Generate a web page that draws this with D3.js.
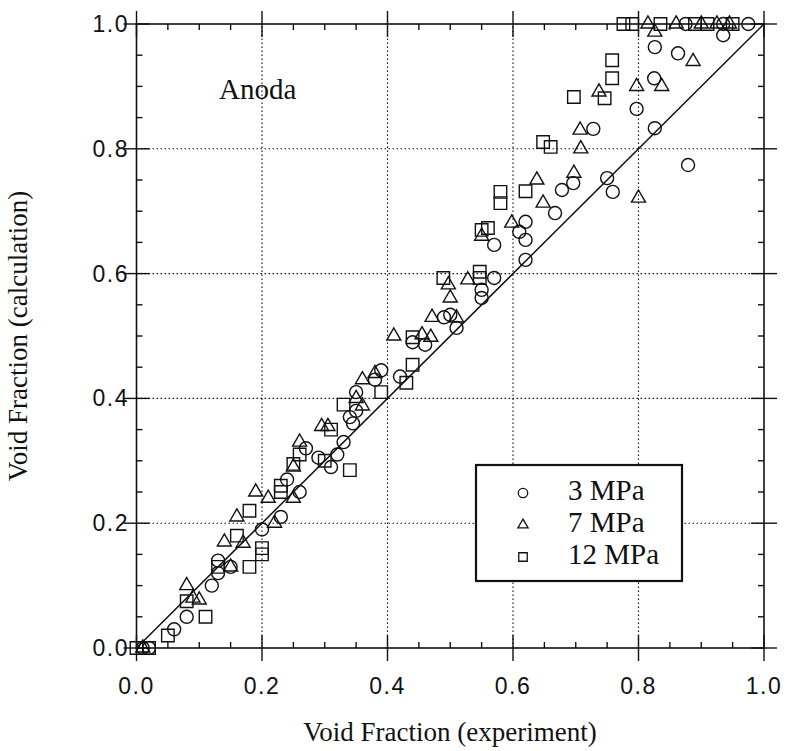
<!DOCTYPE html>
<html><head><meta charset="utf-8">
<script src="https://cdn.jsdelivr.net/npm/d3@7"></script>
<style>
html,body{margin:0;padding:0;background:#fff;}
svg{display:block;}
</style></head>
<body>
<svg id="chart" width="787" height="751"></svg>
<script>
// ---- data (experiment, calculation) ----
const series3MPa = [
  [0.01,0.0],[0.02,0.0],[0.06,0.03],[0.08,0.05],[0.12,0.10],[0.13,0.14],[0.13,0.12],[0.15,0.13],
  [0.20,0.19],[0.23,0.21],[0.24,0.27],[0.26,0.25],[0.27,0.32],[0.29,0.305],[0.31,0.29],[0.32,0.31],
  [0.33,0.33],[0.34,0.37],[0.345,0.36],[0.35,0.41],[0.35,0.38],[0.38,0.43],[0.39,0.445],[0.42,0.435],
  [0.44,0.49],[0.46,0.486],[0.49,0.53],[0.50,0.534],[0.51,0.513],[0.55,0.574],[0.55,0.561],[0.57,0.593],
  [0.57,0.646],[0.61,0.667],[0.62,0.683],[0.62,0.654],[0.62,0.622],[0.667,0.697],[0.678,0.734],[0.696,0.745],
  [0.728,0.832],[0.75,0.753],[0.759,0.731],[0.797,0.864],[0.826,0.833],[0.825,0.913],[0.826,0.963],[0.863,0.953],
  [0.879,0.774],[0.935,0.982],[0.875,1.0],[0.935,1.0],[0.975,1.0]
];
const series7MPa = [
  [0.01,0.0],[0.08,0.10],[0.09,0.08],[0.10,0.077],[0.14,0.17],[0.15,0.13],[0.16,0.21],[0.17,0.168],
  [0.19,0.25],[0.21,0.24],[0.22,0.20],[0.25,0.24],[0.25,0.29],[0.26,0.33],[0.295,0.355],[0.305,0.355],
  [0.35,0.40],[0.36,0.43],[0.36,0.388],[0.38,0.44],[0.41,0.50],[0.455,0.502],[0.469,0.498],[0.471,0.53],
  [0.51,0.529],[0.497,0.582],[0.50,0.561],[0.528,0.59],[0.55,0.66],[0.598,0.681],[0.638,0.75],[0.648,0.713],
  [0.697,0.761],[0.707,0.83],[0.708,0.80],[0.737,0.891],[0.797,0.90],[0.837,0.90],[0.80,0.721],[0.826,0.987],
  [0.887,0.94],[0.815,1.0],[0.86,1.0],[0.90,1.0],[0.925,1.0],[0.945,1.0]
];
const series12MPa = [
  [0.0,0.0],[0.02,0.0],[0.05,0.02],[0.11,0.05],[0.08,0.075],[0.13,0.13],[0.18,0.13],[0.16,0.18],
  [0.18,0.22],[0.20,0.16],[0.20,0.15],[0.23,0.26],[0.23,0.25],[0.25,0.295],[0.26,0.31],[0.30,0.30],
  [0.31,0.35],[0.34,0.285],[0.33,0.39],[0.39,0.41],[0.43,0.425],[0.44,0.454],[0.44,0.498],[0.489,0.593],
  [0.547,0.603],[0.547,0.593],[0.55,0.67],[0.56,0.673],[0.58,0.731],[0.58,0.713],[0.62,0.732],[0.648,0.811],
  [0.66,0.803],[0.697,0.883],[0.746,0.881],[0.758,0.942],[0.758,0.913],[0.776,1.0],[0.79,1.0],[0.835,1.0],
  [0.89,1.0],[0.91,1.0],[0.95,1.0]
];
const seriesNames = ["3 MPa","7 MPa","12 MPa"];
const majorTicks = [0.0,0.2,0.4,0.6,0.8,1.0];
const tickLabels = ["0.0","0.2","0.4","0.6","0.8","1.0"];
const minorTicks = [0.05,0.1,0.15,0.25,0.3,0.35,0.45,0.5,0.55,0.65,0.7,0.75,0.85,0.9,0.95];
const gridValues = [0.2,0.4,0.6,0.8];
const xTitle = "Void Fraction (experiment)";
const yTitle = "Void Fraction (calculation)";
const annotation = "Anoda";

// ---- drawing ----
const svg = d3.select("#chart");
const x = d3.scaleLinear().domain([0,1]).range([136.5,764]);
const y = d3.scaleLinear().domain([0,1]).range([648,24]);
const X0 = x(0), X1 = x(1), Y0 = y(0), Y1 = y(1);
const ink = "#111";

// grid
const grid = svg.append("g").attr("stroke", ink).attr("stroke-width", 1.1).attr("stroke-dasharray","1.6,2.4");
grid.selectAll("line.vx").data(gridValues).join("line")
  .attr("x1", d=>x(d)).attr("x2", d=>x(d)).attr("y1", Y0).attr("y2", Y1);
grid.selectAll("line.hy").data(gridValues).join("line")
  .attr("y1", d=>y(d)).attr("y2", d=>y(d)).attr("x1", X0).attr("x2", X1);

// frame
const frame = svg.append("g").attr("stroke", ink).attr("stroke-width", 1.6).attr("fill","none");
frame.append("rect").attr("x", X0).attr("y", Y1).attr("width", X1-X0).attr("height", Y0-Y1);

// ticks
const T = 13, t = 6;
const tk = svg.append("g").attr("stroke", ink).attr("stroke-width", 1.4);
majorTicks.forEach(v => {
  tk.append("line").attr("x1", x(v)).attr("x2", x(v)).attr("y1", Y0-T).attr("y2", Y0+T);
  tk.append("line").attr("x1", x(v)).attr("x2", x(v)).attr("y1", Y1-T).attr("y2", Y1+T);
  tk.append("line").attr("y1", y(v)).attr("y2", y(v)).attr("x1", X0-T).attr("x2", X0+T);
  tk.append("line").attr("y1", y(v)).attr("y2", y(v)).attr("x1", X1-T).attr("x2", X1+T);
});
minorTicks.forEach(v => {
  tk.append("line").attr("x1", x(v)).attr("x2", x(v)).attr("y1", Y0).attr("y2", Y0-t);
  tk.append("line").attr("x1", x(v)).attr("x2", x(v)).attr("y1", Y1).attr("y2", Y1+t);
  tk.append("line").attr("y1", y(v)).attr("y2", y(v)).attr("x1", X0).attr("x2", X0+t);
  tk.append("line").attr("y1", y(v)).attr("y2", y(v)).attr("x1", X1).attr("x2", X1-t);
});

// tick labels
const tickFont = "'Liberation Sans', Arial, sans-serif";
svg.append("g").selectAll("text").data(majorTicks).join("text")
  .attr("x", d=>x(d)).attr("y", 694).attr("text-anchor","middle")
  .attr("font-family", tickFont).attr("font-size", 23).attr("letter-spacing", 1.5).attr("fill", ink)
  .text((d,i)=>tickLabels[i]);
svg.append("g").selectAll("text").data(majorTicks).join("text")
  .attr("x", 129).attr("y", d=>y(d)+8).attr("text-anchor","end")
  .attr("font-family", tickFont).attr("font-size", 23).attr("letter-spacing", 1.5).attr("fill", ink)
  .text((d,i)=>tickLabels[i]);

// axis titles
const serif = "'Liberation Serif', 'Times New Roman', serif";
svg.append("text").attr("x", 450).attr("y", 741).attr("text-anchor","middle")
  .attr("font-family", serif).attr("font-size", 27).attr("fill", ink).text(xTitle);
svg.append("text").attr("transform", `translate(27,${(Y0+Y1)/2}) rotate(-90)`).attr("text-anchor","middle")
  .attr("font-family", serif).attr("font-size", 27).attr("fill", ink).text(yTitle);

// annotation
svg.append("text").attr("x", 219).attr("y", 99).attr("font-family", serif).attr("font-size", 29)
  .attr("fill", ink).text(annotation);

// diagonal y = x
svg.append("line").attr("x1", x(0)).attr("y1", y(0)).attr("x2", x(1)).attr("y2", y(1))
  .attr("stroke", ink).attr("stroke-width", 1.5);

// markers
const shapes = [d3.symbolCircle, d3.symbolTriangle, d3.symbolSquare];
const sizes = [133, 85, 156];
const allSeries = [series3MPa, series7MPa, series12MPa];
allSeries.forEach((data, si) => {
  const sym = d3.symbol().type(shapes[si]).size(sizes[si]);
  svg.append("g").selectAll("path").data(data).join("path")
    .attr("transform", d => `translate(${x(d[0])},${y(d[1])})`)
    .attr("d", sym).attr("fill","none").attr("stroke", ink).attr("stroke-width", 1.4);
});

// legend
const lg = svg.append("g");
lg.append("rect").attr("x", 476).attr("y", 465).attr("width", 206).attr("height", 116)
  .attr("fill","#fff").attr("stroke", ink).attr("stroke-width", 2.2);
const legendSizes = [70, 45, 72];
const legY = [493, 525, 557];
seriesNames.forEach((name, i) => {
  lg.append("path").attr("transform", `translate(523,${legY[i]})`)
    .attr("d", d3.symbol().type(shapes[i]).size(legendSizes[i]))
    .attr("fill","none").attr("stroke", ink).attr("stroke-width", 1.3);
  lg.append("text").attr("x", 568).attr("y", legY[i] + 7)
    .attr("font-family", serif).attr("font-size", 29).attr("fill", ink).text(name);
});
</script>
</body></html>
